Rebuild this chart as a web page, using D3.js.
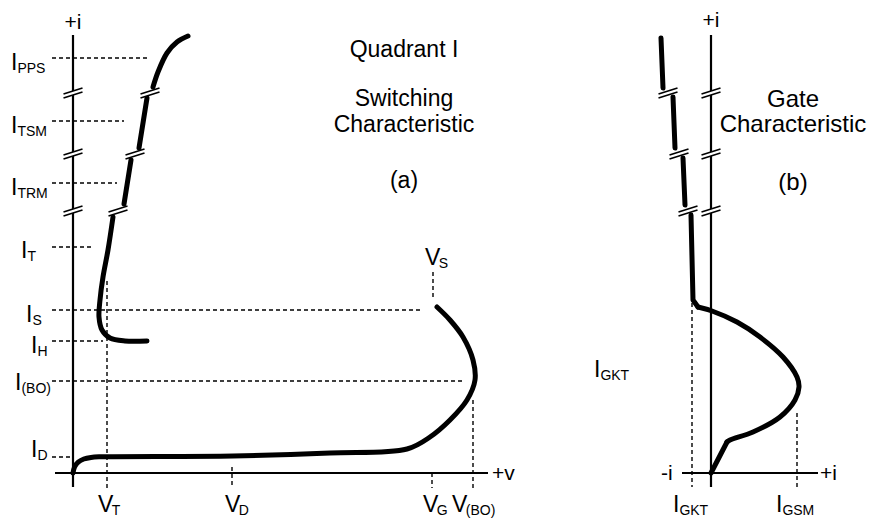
<!DOCTYPE html>
<html>
<head>
<meta charset="utf-8">
<script src="https://cdn.jsdelivr.net/npm/d3@7"></script>
<style>
  body { margin: 0; background: #fff; }
  text { font-family: "Liberation Sans", Arial, sans-serif; fill: #000; }
</style>
</head>
<body>
<svg id="chart" width="870" height="521"></svg>
<script>
// ---- panel (a): switching characteristic, [v, i] in schematic units ----
const offState = [[0, 0], [0.4, 1.5], [1.3, 2.7], [2.7, 3.5], [4.5, 3.9], [7, 4.05], [40, 4.25], [64.25, 5],
  [83.5, 6], [89.25, 9], [94.25, 13.25], [98.5, 18.25], [100.5, 23.25], [100, 28.25],
  [97.5, 34], [94.25, 38.25], [91, 41.5]]
const onState = [
  [[18.5, 33], [13, 33], [9.25, 33.75], [7.25, 35.75], [6.5, 39], [6.75, 43.25], [7.5, 49], [8.75, 55.75], [10, 64]],
  [[12.75, 67.25], [14.5, 78.25]],
  [[16.5, 81.25], [18.5, 93.75]],
  [[20, 96.5], [21.25, 100.25], [23.5, 105], [26, 107.75], [28.75, 109.25]]
]

// current levels on the i axis, and where their dashed guide stops
const levelNames = ["PPS", "TSM", "TRM", "T", "S", "H", "(BO)", "D"]
const levelValues = [103.75, 88, 72.5, 56.5, 40.75, 33, 23, 4]
const levelDashEnd = [18.75, 12.75, 11, 4.75, 87.5, 7.5, 97.5, 0]

// voltage levels on the v axis, and where their dashed guide starts
const voltNames = ["T", "D", "G", "(BO)"]
const voltValues = [8.5, 39.75, 89.75, 100]
const voltDashTop = [48, 1.5, 0, 18.25]
const vS = 90
const vSDash = [50.25, 43.25]

// axis breaks
const breakLevels = [65.5, 79.75, 95]
const breakOnCurveA = [11.25, 15.5, 19.25]
const breakOnCurveB = [-5.75, -8, -10.75]

// ---- panel (b): gate characteristic, [i_g, i] ----
const gateSegs = [
  [[-12.5, 108.75], [-12, 96.25]],
  [[-9.5, 94], [-9, 81.25]],
  [[-7, 78.75], [-6.5, 67]],
  [[-5, 64.5], [-4.5, 43.25], [-3.25, 41.5]]
]
const gateCurve = [[-3.25, 41.5], [0.25, 40.5], [6.5, 37.75], [12.25, 34], [18, 29], [21.5, 24],
  [22, 21.5], [21, 18.25], [17.25, 14], [10.5, 10.25], [4.75, 8.25], [4, 7.75]]
const gateTail = [[4, 7.75], [0, 0]]
const gateNames = ["GKT", "GSM"]
const gateValues = [-4.75, 21.5]
const gateDashTop = [42.5, 15]

const axisI = [-3.5, 109.5]
const axisV = [-4.5, 103.75]
const axisG = [-7.25, 26.75]

const svg = d3.select("#chart")
svg.append("rect").attr("width", 870).attr("height", 521).attr("fill", "#fff")

const x = d3.scaleLinear().domain([0, 100]).range([73, 473])
const y = d3.scaleLinear().domain([0, 110]).range([473, 33])
const xb = d3.scaleLinear().domain([0, 25]).range([711, 811])

const smooth = d3.line().curve(d3.curveCatmullRom.alpha(0.5))
const straight = d3.line()
const toPx = (pts, sx) => pts.map(p => [sx(p[0]), y(p[1])])

const dashed = svg.append("g")
  .attr("stroke", "#000")
  .attr("stroke-width", 1.4)
  .attr("stroke-dasharray", "4,3")

function dash(x1, y1, x2, y2) {
  dashed.append("line").attr("x1", x1).attr("y1", y1).attr("x2", x2).attr("y2", y2)
}

// horizontal guides (a)
levelValues.forEach((v, i) => dash(x(-5.25), y(v), x(levelDashEnd[i]), y(v)))
// vertical guides (a)
voltValues.forEach((v, i) => dash(x(v), y(voltDashTop[i]), x(v), y(-3.75)))
dash(x(vS), y(vSDash[0]), x(vS), y(vSDash[1]))
// vertical guides (b)
gateValues.forEach((v, i) => dash(xb(v), y(gateDashTop[i]), xb(v), y(-3.5)))

// axes
const axes = svg.append("g").attr("stroke", "#000").attr("stroke-width", 2.2)
axes.append("line").attr("x1", x(0)).attr("x2", x(0)).attr("y1", y(axisI[0])).attr("y2", y(axisI[1]))
axes.append("line").attr("x1", x(axisV[0])).attr("x2", x(axisV[1])).attr("y1", y(0)).attr("y2", y(0))
axes.append("line").attr("x1", xb(0)).attr("x2", xb(0)).attr("y1", y(axisI[0])).attr("y2", y(axisI[1]))
axes.append("line").attr("x1", xb(axisG[0])).attr("x2", xb(axisG[1])).attr("y1", y(0)).attr("y2", y(0))

// curves
const curves = svg.append("g")
  .attr("fill", "none")
  .attr("stroke", "#000")
  .attr("stroke-width", 5)
  .attr("stroke-linecap", "round")
  .attr("stroke-linejoin", "round")

curves.append("path").attr("d", smooth(toPx(offState, x)))
onState.forEach(seg => curves.append("path").attr("d", smooth(toPx(seg, x))))
gateSegs.forEach(seg => curves.append("path").attr("d", straight(toPx(seg, xb))))
curves.append("path").attr("d", smooth(toPx(gateCurve, xb)))
curves.append("path").attr("d", straight(toPx(gateTail, xb)))

// break marks: two parallel slashes with a white gap
function breakMark(cx, cy) {
  const g = svg.append("g")
  const hw = 9.5, sl = 3, gap = 2
  g.append("polygon")
    .attr("points", [[cx - hw, cy - gap + sl], [cx + hw, cy - gap - sl], [cx + hw, cy + gap - sl], [cx - hw, cy + gap + sl]].join(" "))
    .attr("fill", "#fff")
  ;[-gap, gap].forEach(o => {
    g.append("line")
      .attr("x1", cx - hw).attr("y1", cy + o + sl)
      .attr("x2", cx + hw).attr("y2", cy + o - sl)
      .attr("stroke", "#000").attr("stroke-width", 1.6)
  })
}
breakLevels.forEach((b, i) => {
  breakMark(x(0), y(b))
  breakMark(x(breakOnCurveA[i]), y(b))
  breakMark(xb(0), y(b))
  breakMark(xb(breakOnCurveB[i]), y(b))
})

// text
function subLabel(main, sub, tx, ty, dx) {
  const t = svg.append("text").attr("x", tx).attr("y", ty).style("font-size", "23px")
  t.append("tspan").text(main)
  t.append("tspan").text(sub).attr("dx", dx || 0).attr("dy", 3).style("font-size", "14px")
}

const levelLabelX = [11, 11, 11, 21, 26, 31, 15, 31]
const levelLabelDy = [12, 12, 12, 11, 12, 12, 9, 0]
levelNames.forEach((n, i) => subLabel("I", n, levelLabelX[i], y(levelValues[i]) + levelLabelDy[i]))

const voltLabelDx = [-9, -7, -9, -21]
voltNames.forEach((n, i) => subLabel("V", n, x(voltValues[i]) + voltLabelDx[i], 512, -1.5))
subLabel("V", "S", x(vS) - 8, 265, -1.5)

const gateLabelDx = [-19, -21]
gateNames.forEach((n, i) => subLabel("I", n, xb(gateValues[i]) + gateLabelDx[i], 512))
subLabel("I", "GKT", 594, 377)

function plain(str, tx, ty, size, anchor) {
  svg.append("text").attr("x", tx).attr("y", ty)
    .attr("text-anchor", anchor || "start")
    .style("font-size", size + "px").text(str)
}
plain("+i", x(0), 29, 21, "middle")
plain("+i", xb(0), 27, 21, "middle")
plain("+v", 492, 480, 21)
plain("-i", 661, 480, 21)
plain("+i", 820, 480, 21)

plain("Quadrant I", 404, 57, 23, "middle")
plain("Switching", 404, 106, 23, "middle")
plain("Characteristic", 404, 132, 23, "middle")
plain("(a)", 404, 188, 23, "middle")

plain("Gate", 793, 107, 24, "middle")
plain("Characteristic", 793, 132, 24, "middle")
plain("(b)", 793, 190, 24, "middle")
</script>
</body>
</html>
